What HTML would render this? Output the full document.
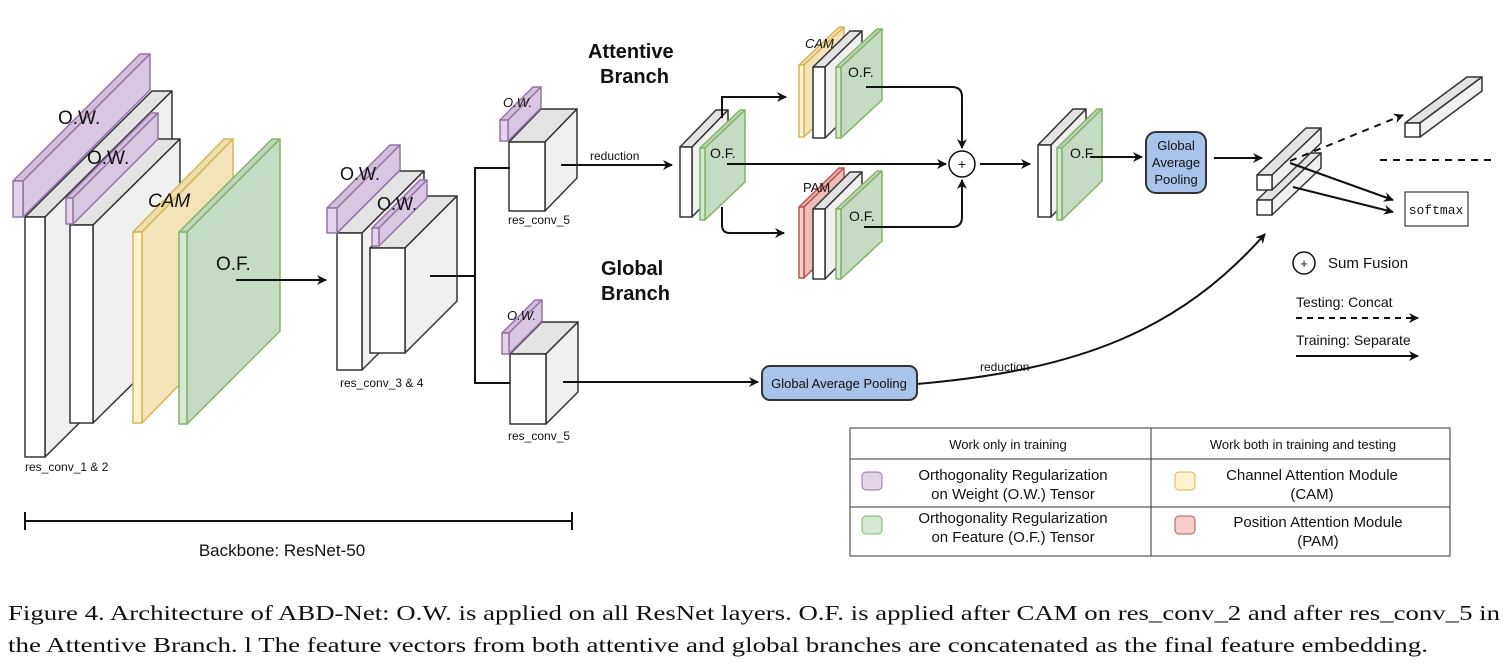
<!DOCTYPE html>
<html><head><meta charset="utf-8"><style>
html,body{margin:0;padding:0;background:#fff;}
svg{display:block}
text{font-family:"Liberation Sans",sans-serif;fill:#111}
.cap{font-family:"Liberation Serif",serif;font-size:21px}
</style></head><body>
<svg id="s" width="1512" height="671" viewBox="0 0 1512 671" xmlns="http://www.w3.org/2000/svg">
<defs>
<marker id="ar" markerWidth="10" markerHeight="10" refX="9" refY="5" orient="auto" markerUnits="userSpaceOnUse">
<path d="M0,0 L10,5 L0,10 L3,5 z" fill="#111"/></marker>
</defs>
<g id="boxes"></g>
<g fill="none" stroke="#111" stroke-width="2">
<line x1="236" y1="280" x2="326" y2="280" marker-end="url(#ar)"/>
<polyline points="430,276 475,276"/>
<polyline points="510,168 475,168 475,383 510,383"/>
<line x1="561" y1="165" x2="672" y2="165" marker-end="url(#ar)"/>
<line x1="563" y1="382" x2="758" y2="382" marker-end="url(#ar)"/>
<path d="M917,384 C1080,370 1180,330 1265,234" marker-end="url(#ar)"/>
<path d="M722,118 L722,97 L786,97" marker-end="url(#ar)"/>
<path d="M722,207 L722,225 Q722,233 730,233 L784,233" marker-end="url(#ar)"/>
<line x1="727" y1="164" x2="946" y2="164" marker-end="url(#ar)"/>
<path d="M866,87 L952,87 Q962,87 962,97 L962,148" marker-end="url(#ar)"/>
<path d="M864,227 L952,227 Q962,227 962,217 L962,180" marker-end="url(#ar)"/>
<line x1="980" y1="164" x2="1030" y2="164" marker-end="url(#ar)"/>
<line x1="1090" y1="157" x2="1142" y2="157" marker-end="url(#ar)"/>
<line x1="1214" y1="158" x2="1262" y2="158" marker-end="url(#ar)"/>
<line x1="1290" y1="161" x2="1403" y2="115" stroke-dasharray="7,6" marker-end="url(#ar)"/>
<line x1="1380" y1="160" x2="1495" y2="160" stroke-dasharray="7,6"/>
<line x1="1290" y1="163" x2="1393" y2="200" marker-end="url(#ar)"/>
<line x1="1293" y1="187" x2="1393" y2="212" marker-end="url(#ar)"/>
<line x1="1296" y1="318" x2="1418" y2="318" stroke-dasharray="6,5" marker-end="url(#ar)"/>
<line x1="1296" y1="356" x2="1418" y2="356" marker-end="url(#ar)"/>
<line x1="25" y1="521" x2="572" y2="521"/>
<line x1="25" y1="512" x2="25" y2="530"/><line x1="572" y1="512" x2="572" y2="530"/>
</g>
<circle cx="962" cy="164" r="13" fill="#fff" stroke="#111" stroke-width="1.5"/>
<text x="962" y="169" font-size="14" text-anchor="middle">+</text>
<circle cx="1304" cy="263" r="11" fill="#fff" stroke="#111" stroke-width="1.5"/>
<text x="1304" y="268" font-size="13" text-anchor="middle">+</text>
<rect x="762" y="366" width="155" height="34" rx="8" fill="#a9c4eb" stroke="#333" stroke-width="2"/>
<text x="839" y="388" font-size="13" text-anchor="middle">Global Average Pooling</text>
<rect x="1146" y="132" width="60" height="61" rx="10" fill="#a9c4eb" stroke="#333" stroke-width="2"/>
<text x="1176" y="150" font-size="13" text-anchor="middle">Global</text>
<text x="1176" y="167" font-size="13" text-anchor="middle">Average</text>
<text x="1176" y="184" font-size="13" text-anchor="middle">Pooling</text>
<rect x="1405" y="192" width="63" height="34" fill="#fff" stroke="#111" stroke-width="1"/>
<text x="1436" y="214" font-size="13" text-anchor="middle" style="font-family:'Liberation Mono',monospace">softmax</text>

<text x="58" y="124" font-size="19">O.W.</text>
<text x="87" y="164" font-size="19">O.W.</text>
<text x="148" y="207" font-size="19" font-style="italic">CAM</text>
<text x="216" y="270" font-size="19">O.F.</text>
<text x="25" y="471" font-size="12">res_conv_1 &amp; 2</text>
<text x="340" y="180" font-size="18">O.W.</text>
<text x="377" y="210" font-size="18">O.W.</text>
<text x="340" y="387" font-size="12">res_conv_3 &amp; 4</text>
<text x="503" y="107" font-size="13" font-style="italic">O.W.</text>
<text x="508" y="224" font-size="12">res_conv_5</text>
<text x="590" y="160" font-size="12">reduction</text>
<text x="507" y="320" font-size="13" font-style="italic">O.W.</text>
<text x="508" y="440" font-size="12">res_conv_5</text>
<text x="980" y="371" font-size="12">reduction</text>
<text x="588" y="58" font-size="20" font-weight="bold">Attentive</text>
<text x="600" y="83" font-size="20" font-weight="bold">Branch</text>
<text x="601" y="275" font-size="20" font-weight="bold">Global</text>
<text x="601" y="300" font-size="20" font-weight="bold">Branch</text>
<text x="805" y="48" font-size="13" font-style="italic">CAM</text>
<text x="848" y="77" font-size="14">O.F.</text>
<text x="710" y="158" font-size="14">O.F.</text>
<text x="803" y="192" font-size="13">PAM</text>
<text x="849" y="221" font-size="14">O.F.</text>
<text x="1070" y="158" font-size="14">O.F.</text>
<text x="1328" y="268" font-size="15">Sum Fusion</text>
<text x="1296" y="307" font-size="14">Testing: Concat</text>
<text x="1296" y="345" font-size="14">Training: Separate</text>
<text x="282" y="556" font-size="17" text-anchor="middle">Backbone: ResNet-50</text>

<g stroke="#333" stroke-width="1" fill="none">
<rect x="850" y="428" width="600" height="128"/>
<line x1="1151" y1="428" x2="1151" y2="556"/>
<line x1="850" y1="459" x2="1450" y2="459"/>
<line x1="850" y1="507" x2="1450" y2="507"/>
</g>
<rect x="862" y="472" width="20" height="18" rx="4" fill="#e1d5e7" stroke="#9673a6"/>
<rect x="862" y="516" width="20" height="18" rx="4" fill="#d5e8d4" stroke="#82b366"/>
<rect x="1175" y="472" width="20" height="18" rx="4" fill="#fff2cc" stroke="#d6b656"/>
<rect x="1175" y="516" width="20" height="18" rx="4" fill="#f8cecc" stroke="#b85450"/>
<text x="1008" y="449" font-size="13" text-anchor="middle">Work only in training</text>
<text x="1303" y="449" font-size="13" text-anchor="middle">Work both in training and testing</text>
<text x="1013" y="480" font-size="15" text-anchor="middle">Orthogonality Regularization</text>
<text x="1013" y="499" font-size="15" text-anchor="middle">on Weight (O.W.) Tensor</text>
<text x="1013" y="523" font-size="15" text-anchor="middle">Orthogonality Regularization</text>
<text x="1013" y="542" font-size="15" text-anchor="middle">on Feature (O.F.) Tensor</text>
<text x="1312" y="480" font-size="15" text-anchor="middle">Channel Attention Module</text>
<text x="1312" y="499" font-size="15" text-anchor="middle">(CAM)</text>
<text x="1318" y="527" font-size="15" text-anchor="middle">Position Attention Module</text>
<text x="1318" y="546" font-size="15" text-anchor="middle">(PAM)</text>

<text class="cap" x="8" y="620" textLength="1492" lengthAdjust="spacingAndGlyphs">Figure 4. Architecture of ABD-Net: O.W. is applied on all ResNet layers. O.F. is applied after CAM on res_conv_2 and after res_conv_5 in</text>
<text class="cap" x="8" y="652" textLength="1420" lengthAdjust="spacingAndGlyphs">the Attentive Branch. l The feature vectors from both attentive and global branches are concatenated as the final feature embedding.</text>
</svg>
<script>
var g=document.getElementById('boxes'),NS='http://www.w3.org/2000/svg';
function P(pts,f,s){var p=document.createElementNS(NS,'polygon');p.setAttribute('points',pts);p.setAttribute('fill',f);p.setAttribute('stroke',s);p.setAttribute('stroke-width','1.5');p.setAttribute('stroke-linejoin','round');g.appendChild(p);}
var C={w:['#fff','#f0f0f0','#e3e3e3','#333'],p:['#e1d5e7','#d8c7e0','#d2bfdc','#9673a6'],y:['#fff2cc','#f2e3b8','#efdfb0','#d6b656'],g:['#d5e8d4','#c6dbc4','#c0d6be','#82b366'],r:['#f8cecc','#eebcba','#e8b2b0','#b85450']};
function b(x,y,w,h,dx,dy,c){c=C[c];
P([x,y,x+dx,y-dy,x+w+dx,y-dy,x+w,y].join(','),c[2],c[3]);
P([x+w,y,x+w+dx,y-dy,x+w+dx,y+h-dy,x+w,y+h].join(','),c[1],c[3]);
P([x,y,x+w,y,x+w,y+h,x,y+h].join(','),c[0],c[3]);}
b(25,217,20,240,127,126,'w');b(13,181,10,36,127,127,'p');
b(70,225,23,198,87,86,'w');b(66,198,7,26,85,85,'p');
b(133,232,9,191,91,93,'y');b(179,232,8,192,93,93,'g');
b(337,233,25,137,62,62,'w');b(327,208,10,25,63,63,'p');
b(370,248,35,105,52,52,'w');b(372,228,7,18,48,48,'p');
b(509,142,36,69,32,33,'w');b(500,120,8,21,33,33,'p');
b(510,354,36,70,32,32,'w');b(502,333,7,21,33,33,'p');
b(680,147,12,70,36,37,'w');b(700,148,5,72,40,38,'g');
b(799,65,5,72,40,38,'y');b(813,67,12,71,37,36,'w');b(836,67,5,71,41,38,'g');
b(799,207,5,71,40,39,'r');b(813,209,12,70,37,37,'w');b(836,209,5,70,41,38,'g');
b(1038,145,13,72,35,36,'w');b(1057,148,5,72,40,39,'g');
b(1257,200,15,15,49,47,'w');b(1257,175,15,15,49,47,'w');
b(1405,123,15,14,62,46,'w');
</script>
</body></html>
